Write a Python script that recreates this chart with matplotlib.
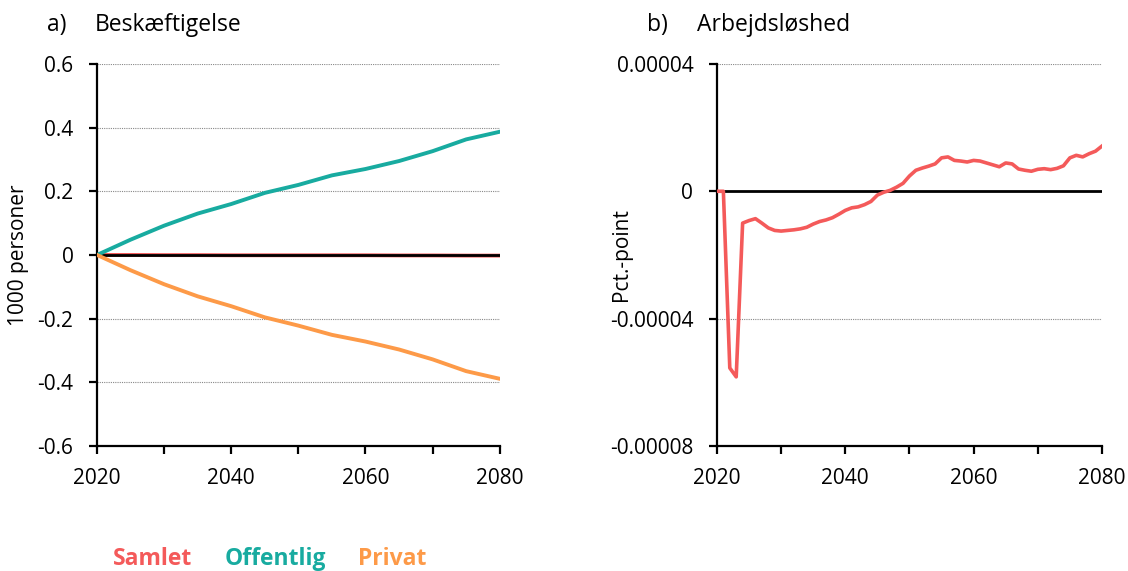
import numpy as np
import matplotlib.pyplot as plt

plt.rcParams['font.family'] = ['Open Sans', 'DejaVu Sans']

# panel a) employment, 1000 persons, every 5 years
aar_a = [2020, 2025, 2030, 2035, 2040, 2045, 2050, 2055, 2060, 2065, 2070, 2075, 2080]
offentlig = [0.0, 0.048, 0.092, 0.13, 0.16, 0.195, 0.22, 0.25, 0.27, 0.295, 0.326, 0.363, 0.387]
privat = [0.0, -0.048, -0.092, -0.13, -0.161, -0.196, -0.222, -0.251, -0.272, -0.297, -0.328, -0.365, -0.389]
samlet_a = [0.0, 0.0, -0.0005, -0.0005, -0.001, -0.001, -0.001, -0.001, -0.001, -0.0015, -0.0015, -0.002, -0.002]

# panel b) unemployment, pct.-point (1e-5), yearly 2020-2080
aar_b = list(range(2020, 2081))
ledighed = [0.0, 0.0, -5.55, -5.83, -1.0, -0.92, -0.86, -1.0, -1.15, -1.23,
            -1.25, -1.23, -1.21, -1.18, -1.13, -1.03, -0.95, -0.9, -0.83, -0.72,
            -0.6, -0.52, -0.49, -0.42, -0.32, -0.12, -0.03, 0.03, 0.13, 0.25,
            0.48, 0.66, 0.73, 0.79, 0.86, 1.05, 1.08, 0.97, 0.95, 0.92,
            0.97, 0.95, 0.89, 0.83, 0.77, 0.89, 0.86, 0.7, 0.66, 0.63,
            0.69, 0.71, 0.68, 0.72, 0.8, 1.05, 1.13, 1.08, 1.18, 1.26, 1.42]
ledighed = [v * 1e-5 for v in ledighed]

red = '#f45a5a'
teal = '#18aba0'
orange = '#fd9a48'

xticks = [2020, 2030, 2040, 2050, 2060, 2070, 2080]
xlabels = ['2020', '', '2040', '', '2060', '', '2080']

fig = plt.figure(figsize=(11.28, 5.71), dpi=100)
ax1 = fig.add_axes([0.086, 0.219, 0.357, 0.669])
ax2 = fig.add_axes([0.6356, 0.219, 0.3413, 0.669])


def style(ax, yticks, ylabels):
    ax.set_xlim(2020, 2080)
    ax.set_ylim(yticks[0], yticks[-1])
    ax.set_xticks(xticks)
    ax.set_xticklabels(xlabels)
    ax.set_yticks(yticks)
    ax.set_yticklabels(ylabels)
    for s in ['top', 'right']:
        ax.spines[s].set_visible(False)
    for s in ['left', 'bottom']:
        ax.spines[s].set_linewidth(1.6)
    ax.tick_params(axis='both', direction='out', length=6, width=1.6, labelsize=15)
    ax.tick_params(axis='x', pad=10)
    ax.tick_params(axis='y', pad=11)
    ax.grid(axis='y', color='#888888', linestyle=(0, (1, 1)), linewidth=0.8)
    ax.set_axisbelow(True)


# panel a
ax1.plot(aar_a, samlet_a, color=red, lw=2.8, label='Samlet', zorder=2)
ax1.plot(aar_a, offentlig, color=teal, lw=2.8, label='Offentlig', zorder=3)
ax1.plot(aar_a, privat, color=orange, lw=2.8, label='Privat', zorder=3)
ax1.axhline(0, color='black', lw=2, zorder=2.5)
style(ax1, [-0.6, -0.4, -0.2, 0, 0.2, 0.4, 0.6],
      ['-0.6', '-0.4', '-0.2', '0', '0.2', '0.4', '0.6'])
ax1.set_ylabel('1000 personer', fontsize=15)
ax1.yaxis.set_label_coords(-0.17, 0.5)
fig.text(0.042, 0.957, 'a)', fontsize=16.5, va='center')
fig.text(0.084, 0.957, 'Beskæftigelse', fontsize=16.5, va='center')

# panel b
ax2.axhline(0, color='black', lw=2, zorder=2)
ax2.plot(aar_b, ledighed, color=red, lw=2.6, zorder=3)
style(ax2, [-0.00008, -0.00004, 0, 0.00004],
      ['-0.00008', '-0.00004', '0', '0.00004'])
ax2.set_ylabel('Pct.-point', fontsize=15)
ax2.yaxis.set_label_coords(-0.22, 0.5)
fig.text(0.574, 0.957, 'b)', fontsize=16.5, va='center')
fig.text(0.618, 0.957, 'Arbejdsløshed', fontsize=16.5, va='center')

# legend with coloured labels only
leg = fig.legend(handles=ax1.get_lines()[:3], loc='center left',
                 bbox_to_anchor=(0.1, 0.021), ncol=3, frameon=False,
                 borderaxespad=0, borderpad=0,
                 handlelength=0, handletextpad=0, columnspacing=1.4,
                 labelcolor='linecolor', prop={'weight': 'bold', 'size': 16.5})
for h in leg.legend_handles:
    h.set_visible(False)

fig.savefig('out.png', dpi=100)
